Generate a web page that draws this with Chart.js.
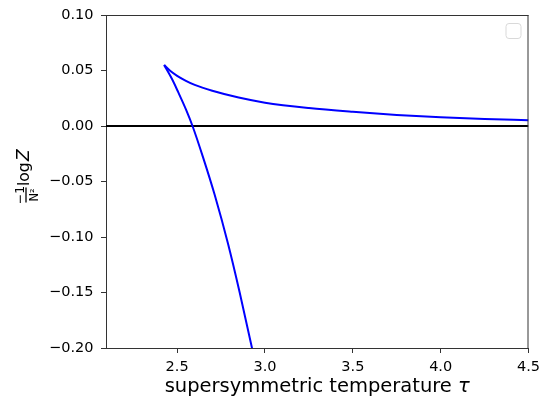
<!DOCTYPE html>
<html>
<head>
<meta charset="utf-8">
<script src="https://cdn.jsdelivr.net/npm/chart.js@4"></script>
<style>
  html, body { margin: 0; padding: 0; background: #fff; }
</style>
</head>
<body>
<canvas id="freeEnergyChart" width="543" height="398"></canvas>
<script>
// branch that starts at the cusp and decays slowly to zero
const upperTau = [2.426, 2.46, 2.5, 2.55, 2.6, 2.7, 2.85, 3.0, 3.25, 3.5, 3.75, 4.0, 4.25, 4.5];
const upperVal = [0.0549, 0.0498, 0.0452, 0.0407, 0.0370, 0.0317, 0.0256, 0.0210, 0.0162, 0.0128, 0.0100, 0.0079, 0.0064, 0.0052];
// branch that falls steeply from the cusp
const lowerTau = [2.426, 2.47, 2.506, 2.55, 2.5875, 2.648, 2.714, 2.79, 2.856, 2.926, 2.935];
const lowerVal = [0.0549, 0.0425, 0.0305, 0.0150, 0.0, -0.0285, -0.0622, -0.1063, -0.1500, -0.2000, -0.2069];

const xTicks = [2.5, 3.0, 3.5, 4.0, 4.5];
const yTicks = [-0.20, -0.15, -0.10, -0.05, 0.00, 0.05, 0.10];
const xMin = 2.095, xMax = 4.5;
const yMin = -0.20, yMax = 0.10;

const FONT = "'DejaVu Sans', sans-serif";
const minus = s => s.replace('-', '\u2212');

function toPoints(xs, ys) {
    return xs.map((x, i) => ({ x: x, y: ys[i] }));
}

// frame, empty legend box and the axis titles (matplotlib style)
const decorPlugin = {
    id: 'decor',
    afterDraw(chart) {
        const c = chart.ctx;
        const a = chart.chartArea;
        c.save();
        // top and right spines
        c.strokeStyle = '#333';
        c.lineWidth = 1;
        c.beginPath();
        c.moveTo(a.left, a.top + 0.5);
        c.lineTo(a.right, a.top + 0.5);
        c.moveTo(a.right - 0.5, a.top);
        c.lineTo(a.right - 0.5, a.bottom);
        c.stroke();

        // empty legend
        const bx = a.right - 22.5, by = a.top + 8.5, bs = 15, r = 3;
        c.strokeStyle = '#d9d9d9';
        c.fillStyle = 'rgba(255,255,255,0.8)';
        c.beginPath();
        c.roundRect(bx, by, bs, bs, r);
        c.fill();
        c.stroke();

        // x title
        c.fillStyle = '#000';
        c.textBaseline = 'alphabetic';
        const part1 = 'supersymmetric temperature ';
        c.font = 'italic 19.5px ' + FONT;
        const w2 = c.measureText('\u03c4').width;
        c.font = '19.5px ' + FONT;
        const w1 = c.measureText(part1).width;
        const cx = (a.left + a.right) / 2;
        const x0 = cx - (w1 + w2) / 2;
        c.textAlign = 'left';
        c.fillText(part1, x0, 391.5);
        c.font = 'italic 19.5px ' + FONT;
        c.fillText('\u03c4', x0 + w1, 391.5);

        // y title: -1/N^2 log Z, rotated
        c.translate(29, 175);
        c.rotate(-Math.PI / 2);
        c.textAlign = 'center';
        c.font = '12.5px ' + FONT;
        c.fillText('\u22121', -20, -5.5);
        c.font = '11.5px ' + FONT;
        c.fillText('N\u00b2', -20, 9);
        c.lineWidth = 1.3;
        c.strokeStyle = '#000';
        c.beginPath();
        c.moveTo(-27.5, -3);
        c.lineTo(-12.5, -3);
        c.stroke();
        c.textAlign = 'left';
        c.font = '15.5px ' + FONT;
        c.fillText('log', -11, 0);
        c.font = 'italic 17px ' + FONT;
        c.fillText('Z', 14, 0);
        c.restore();
    }
};

const ctx = document.getElementById('freeEnergyChart').getContext('2d');
const freeEnergyChart = new Chart(ctx, {
    type: 'line',
    data: {
        datasets: [
            {
                data: toPoints(upperTau, upperVal),
                borderColor: '#0000ff',
                borderWidth: 2,
                cubicInterpolationMode: 'monotone'
            },
            {
                data: toPoints(lowerTau, lowerVal),
                borderColor: '#0000ff',
                borderWidth: 2,
                cubicInterpolationMode: 'monotone'
            },
            {
                data: toPoints([xMin, xMax], [0, 0]),
                borderColor: '#000',
                borderWidth: 2
            }
        ]
    },
    options: {
        responsive: false,
        animation: false,
        layout: { padding: { top: 15, right: 14.5, left: 0, bottom: 0 } },
        elements: { point: { radius: 0 } },
        plugins: {
            legend: { display: false },
            tooltip: { enabled: false }
        },
        scales: {
            x: {
                type: 'linear',
                min: xMin,
                max: xMax,
                afterBuildTicks: s => { s.ticks = xTicks.map(v => ({ value: v })); },
                afterFit: s => { s.height = 50; s.paddingLeft = 0; s.paddingRight = 0; },
                grid: { drawOnChartArea: false, tickLength: 5, color: '#333' },
                border: { color: '#333' },
                ticks: {
                    color: '#000',
                    padding: 6,
                    maxRotation: 0,
                    font: { family: FONT, size: 14.5 },
                    callback: v => v.toFixed(1)
                }
            },
            y: {
                min: yMin,
                max: yMax,
                afterBuildTicks: s => { s.ticks = yTicks.map(v => ({ value: v })); },
                afterFit: s => { s.width = 106; s.paddingTop = 0; s.paddingBottom = 0; },
                grid: { drawOnChartArea: false, tickLength: 5, color: '#333' },
                border: { color: '#333' },
                ticks: {
                    color: '#000',
                    padding: 7.5,
                    font: { family: FONT, size: 14.5 },
                    callback: v => minus(v.toFixed(2))
                }
            }
        }
    },
    plugins: [decorPlugin]
});
</script>
</body>
</html>
